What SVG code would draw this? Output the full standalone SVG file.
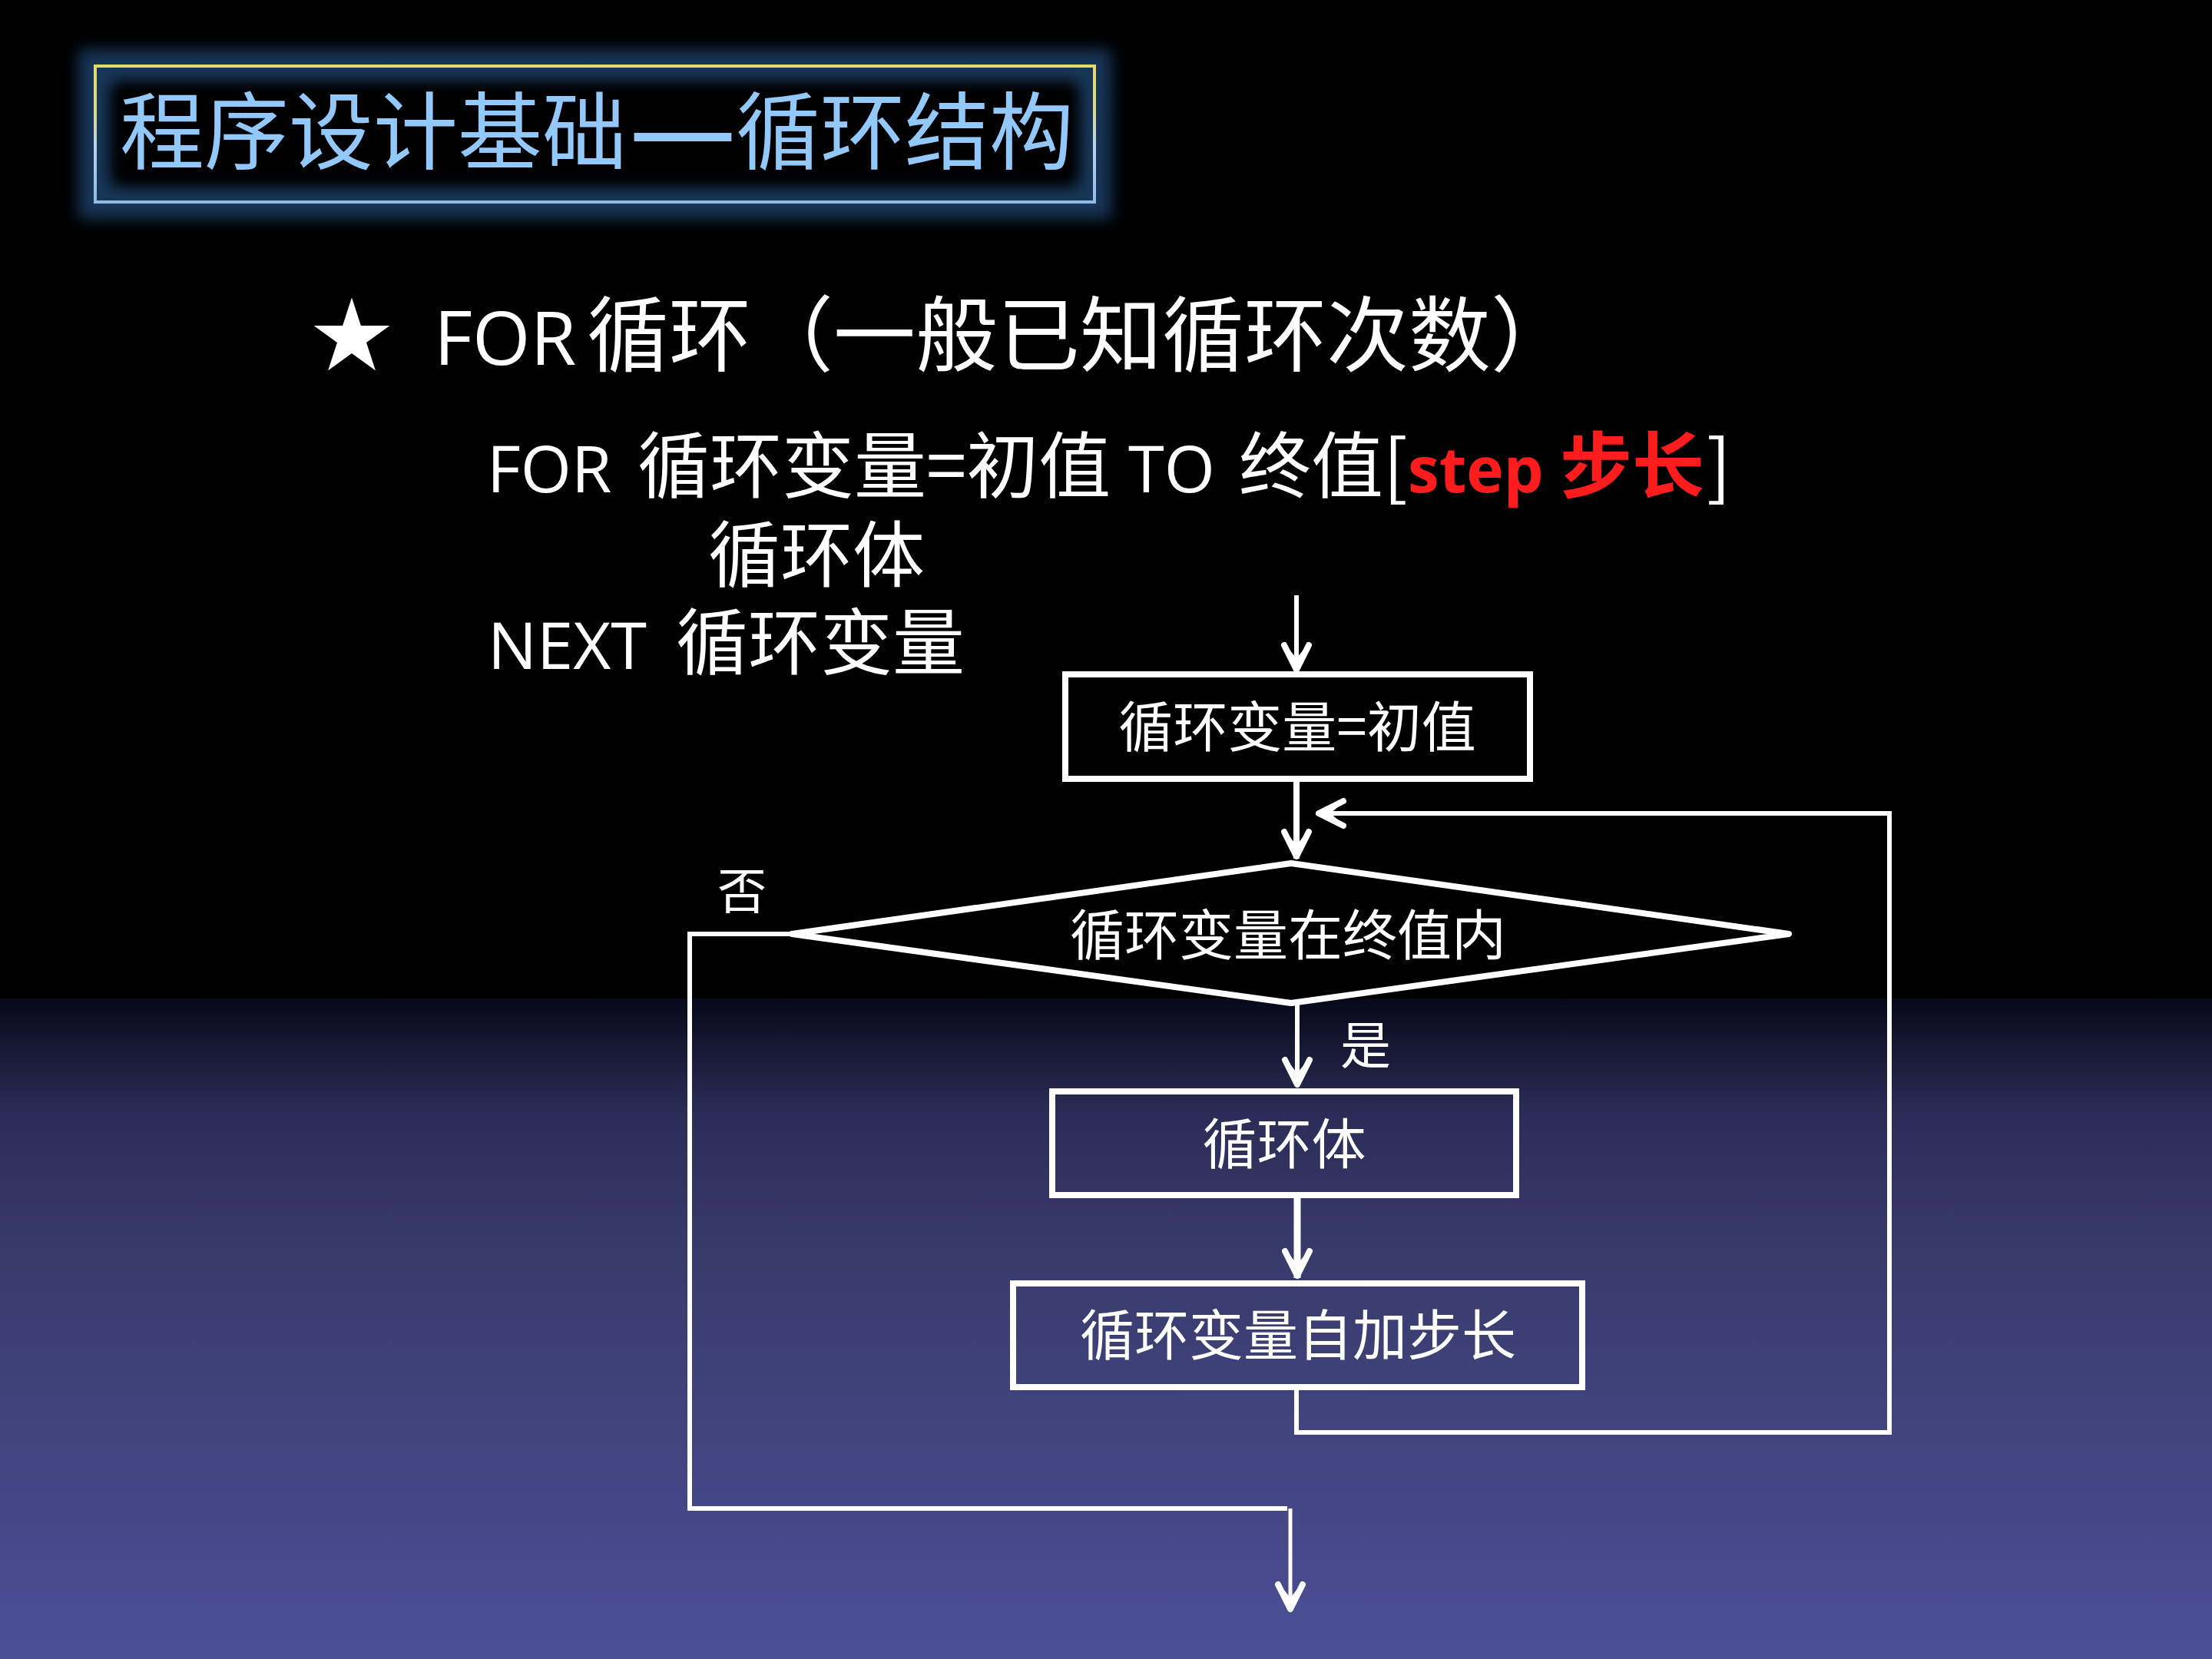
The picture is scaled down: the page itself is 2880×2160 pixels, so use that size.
<svg xmlns="http://www.w3.org/2000/svg" width="2880" height="2160" viewBox="0 0 2880 2160">
  <defs>
    <linearGradient id="bg" x1="0" y1="0" x2="0" y2="1">
      <stop offset="0" stop-color="#08081a"/>
      <stop offset="0.03" stop-color="#0e0f24"/>
      <stop offset="0.17" stop-color="#2b2c56"/>
      <stop offset="0.38" stop-color="#383a6b"/>
      <stop offset="0.59" stop-color="#3f4279"/>
      <stop offset="0.81" stop-color="#454889"/>
      <stop offset="1" stop-color="#4b5096"/>
    </linearGradient>
    <linearGradient id="frame" x1="0" y1="0" x2="0" y2="1">
      <stop offset="0" stop-color="#e6d86a"/>
      <stop offset="0.35" stop-color="#d8d890"/>
      <stop offset="0.6" stop-color="#b8d0f0"/>
      <stop offset="1" stop-color="#8fbbe6"/>
    </linearGradient>
    <filter id="glow" x="-10%" y="-30%" width="120%" height="160%">
      <feGaussianBlur stdDeviation="10"/>
    </filter>
    <marker id="ah" viewBox="-44 -24 48 48" markerWidth="48" markerHeight="48" refX="0" refY="0" orient="auto" markerUnits="userSpaceOnUse" overflow="visible">
      <path d="M-35,-16 L-3,0 L-35,16" fill="none" stroke="#ffffff" stroke-width="8" stroke-linecap="round" stroke-linejoin="round"/>
      <path d="M0,0 L-30,-10 L-18,0 L-30,10 Z" fill="#ffffff"/>
    </marker>
    <style>
      .cjk { font-family: "Noto Sans CJK SC", sans-serif; fill: #ffffff; }
      .lat { font-family: "Open Sans", "Noto Sans CJK SC", sans-serif; fill: #ffffff; }
      .red { fill: #ff1c1c; font-weight: bold; }
      .title { font-family: "Noto Sans CJK SC", sans-serif; fill: #92c8fa; font-size: 110px; }
      .node { fill: none; stroke: #ffffff; stroke-width: 8; }
      .ntext { font-family: "Noto Sans CJK SC", sans-serif; fill: #ffffff; font-size: 71px; text-anchor: middle; dominant-baseline: central; }
      .conn { fill: none; stroke: #ffffff; stroke-linejoin: miter; }
      .lbl { font-family: "Noto Sans CJK SC", sans-serif; fill: #ffffff; text-anchor: middle; dominant-baseline: central; }
    </style>
  </defs>

  <!-- background -->
  <rect x="0" y="0" width="2880" height="2160" fill="#000000"/>
  <rect x="0" y="1300" width="2880" height="860" fill="url(#bg)"/>

  <!-- title -->
  <g id="title">
    <rect x="124" y="86" width="1301" height="177" fill="none" stroke="#1b3f68" stroke-width="44" filter="url(#glow)" opacity="0.85"/>
    <rect x="152" y="114" width="1245" height="121" fill="#000000" filter="url(#glow)"/>
    <rect x="124" y="86" width="1301" height="177" fill="none" stroke="url(#frame)" stroke-width="4"/>
    <text class="title" y="212"><tspan x="156">程序设计基础</tspan><tspan x="818" font-size="118" font-weight="bold" textLength="142" lengthAdjust="spacingAndGlyphs">—</tspan><tspan x="958">循环结构</tspan></text>
  </g>

  <!-- text lines -->
  <g id="heading">
    <text class="cjk" x="405" y="475" font-size="106">★</text>
    <text class="lat" x="565" y="475" font-size="97">FOR</text>
    <text class="cjk" x="764" y="475" font-size="107">循环（一般已知循环次数）</text>
  </g>
  <g id="syntax">
    <text class="lat" x="634" y="641" font-size="85">FOR</text>
    <text class="cjk" x="830" y="641" font-size="94">循环变量=初值</text>
    <text class="lat" x="1469" y="641" font-size="85">TO</text>
    <text class="cjk" x="1613" y="641" font-size="94">终值[</text>
    <text class="lat red" x="1833" y="641" font-size="82">step</text>
    <text class="cjk red" x="2031" y="641" font-size="94">步长</text>
    <text class="cjk" x="2222" y="641" font-size="94">]</text>
    <text class="cjk" x="922" y="757" font-size="94">循环体</text>
    <text class="lat" x="635" y="871" font-size="85">NEXT</text>
    <text class="cjk" x="880" y="871" font-size="94">循环变量</text>
  </g>

  <!-- connectors -->
  <g id="connectors">
    <line class="conn" x1="1688" y1="775" x2="1688" y2="875" stroke-width="6" marker-end="url(#ah)"/>
    <line class="conn" x1="1688" y1="1014" x2="1688" y2="1118" stroke-width="8" marker-end="url(#ah)"/>
    <line class="conn" x1="1689" y1="1306" x2="1689" y2="1415" stroke-width="6" marker-end="url(#ah)"/>
    <line class="conn" x1="1689" y1="1556" x2="1689" y2="1664" stroke-width="9" marker-end="url(#ah)"/>
    <path class="conn" d="M1688,1806 L1688,1865 L2460,1865 L2460,1059 L1714,1059" stroke-width="6" marker-end="url(#ah)"/>
    <path class="conn" d="M1031,1216 L898,1216 L898,1964 L1676,1964" stroke-width="6"/>
    <line class="conn" x1="1680" y1="1964" x2="1680" y2="2098" stroke-width="5" marker-end="url(#ah)"/>
    <text class="lbl" x="966" y="1155" font-size="64">否</text>
    <text class="lbl" x="1778" y="1356" font-size="66">是</text>
  </g>

  <!-- nodes -->
  <g id="init">
    <rect class="node" x="1387" y="878" width="605" height="136"/>
    <text class="ntext" x="1689" y="941">循环变量=初值</text>
  </g>
  <g id="cond">
    <polygon class="node" points="1681,1124 2329,1216 1681,1306 1031,1216" stroke-width="9" stroke-linejoin="round"/>
    <text class="ntext" x="1677" y="1212">循环变量在终值内</text>
  </g>
  <g id="body">
    <rect class="node" x="1370" y="1421" width="604" height="135"/>
    <text class="ntext" x="1672" y="1484">循环体</text>
  </g>
  <g id="step">
    <rect class="node" x="1319" y="1671" width="741" height="135"/>
    <text class="ntext" x="1690" y="1733">循环变量自加步长</text>
  </g>
</svg>
